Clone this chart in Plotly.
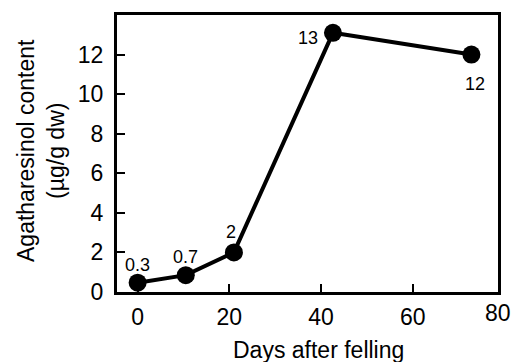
import plotly.graph_objects as go

days = [0, 10.5, 21, 42.6, 72.8]
content = [0.47, 0.85, 2.0, 13.1, 12.0]
point_labels = ["0.3", "0.7", "2", "13", "12"]
x_ticks = [0, 20, 40, 60]
y_ticks = [0, 2, 4, 6, 8, 10, 12]

FONT = "Arial, Liberation Sans, Helvetica, sans-serif"

fig = go.Figure()
fig.add_trace(go.Scatter(
    x=days, y=content, mode="lines+markers",
    line=dict(color="black", width=4),
    marker=dict(color="black", size=18),
    cliponaxis=False, showlegend=False, hoverinfo="skip",
))
# data labels (pixel offsets from their points, down positive)
offsets = [(0, -18), (0, -18), (-3, -20), (-25, 5), (4, 29)]
for xv, yv, t, (dx, dy) in zip(days, content, point_labels, offsets):
    fig.add_annotation(x=xv, y=yv, text=t, showarrow=False, xshift=dx, yshift=-dy,
                       xanchor="center", yanchor="middle",
                       font=dict(family=FONT, size=18, color="black"))

fig.add_annotation(x=1, y=0, xref="paper", yref="paper", text="80", showarrow=False,
                   yshift=-21, xanchor="center", yanchor="middle",
                   font=dict(family=FONT, size=23, color="black"))
fig.add_annotation(x=(318 - 117) / 381, y=0, xref="paper", yref="paper",
                   text="Days after felling", showarrow=False, yshift=-58,
                   xanchor="center", yanchor="middle",
                   font=dict(family=FONT, size=23, color="black"))
fig.add_annotation(x=(41 - 117) / 381, y=0.509, xref="paper", yref="paper",
                   text="Agatharesinol content<br>(µg/g dw)", showarrow=False,
                   textangle=-90, xanchor="center", yanchor="middle",
                   font=dict(family=FONT, size=23, color="black"))

tickfont = dict(family=FONT, size=23, color="black")
fig.update_layout(
    width=514, height=362,
    margin=dict(l=117, r=16, t=12, b=70),
    plot_bgcolor="white", paper_bgcolor="white",
    font=dict(family=FONT, size=23, color="black"),
    xaxis=dict(range=[-4.5, 78.6], tickvals=x_ticks, ticks="inside", ticklen=8,
               tickwidth=2, tickcolor="black", showgrid=False, zeroline=False,
               showline=True, linecolor="black", linewidth=3, mirror=True,
               ticklabelstandoff=2, tickfont=tickfont),
    yaxis=dict(range=[0, 14], tickvals=y_ticks, ticks="inside", ticklen=8,
               tickwidth=2, tickcolor="black", showgrid=False, zeroline=False,
               showline=True, linecolor="black", linewidth=3, mirror=True,
               ticklabelstandoff=6, tickfont=tickfont),
)
fig.write_html("out.html", config={"displayModeBar": False},
               post_script="document.body.style.margin='0';")
